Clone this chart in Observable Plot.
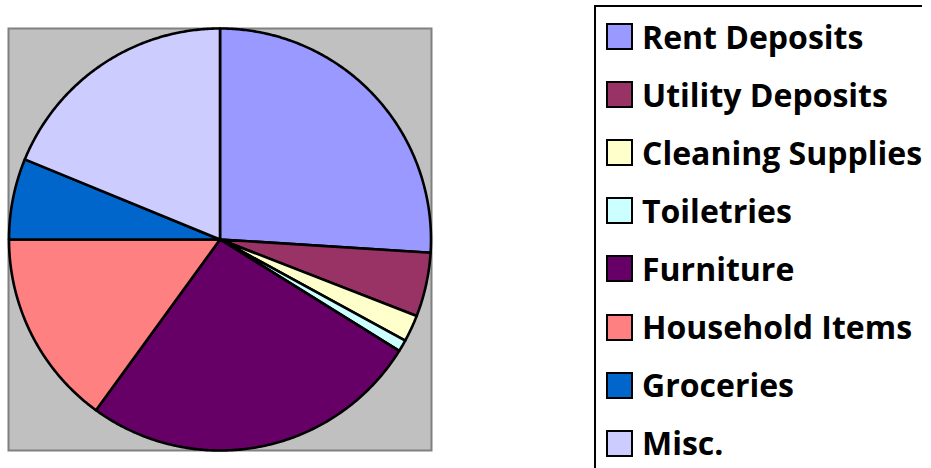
<!DOCTYPE html>
<html>
<head>
<meta charset="utf-8">
<script src="https://cdn.jsdelivr.net/npm/d3@7"></script>
<script src="https://cdn.jsdelivr.net/npm/@observablehq/plot@0.6"></script>
<style>
  html, body { margin: 0; padding: 0; background: #fff; overflow: hidden; }
  #wrap { position: relative; width: 931px; height: 468px; overflow: hidden; }
  #chart { position: absolute; left: 0; top: 0; }
  #legend {
    position: absolute; left: 594px; top: 5px; width: 328px; height: 520px;
    border-top: 2px solid #000; border-left: 2px solid #000; box-sizing: border-box; background: #fff;
  }
  .item { position: absolute; left: 10px; height: 30px; display: flex; align-items: center; }
  .sw { width: 23px; height: 23px; border: 2px solid #000; box-sizing: content-box; flex: none; }
  .lbl { margin-left: 9px; font-family: "Open Sans", Lato, sans-serif; font-weight: bold; font-size: 32px; color: #000; white-space: nowrap; line-height: 30px; }
</style>
</head>
<body>
<div id="wrap">
  <div id="chart"></div>
  <div id="legend"></div>
</div>
<script>
const categories = ["Rent Deposits", "Utility Deposits", "Cleaning Supplies", "Toiletries", "Furniture", "Household Items", "Groceries", "Misc."];
const values = [26.0, 4.9, 2.05, 0.9, 26.15, 15.0, 6.2, 18.8];
const colors = ["#9999FF", "#993366", "#FFFFCC", "#CCFFFF", "#660066", "#FF8080", "#0066CC", "#CCCCFF"];

const data = categories.map((name, i) => ({name, value: values[i]}));
const arcs = d3.pie().sort(null).value(d => d.value)(data);

// outline of each slice in unit-circle data space (angle clockwise from 12 o'clock)
const points = [];
for (const a of arcs) {
  const name = a.data.name;
  points.push({name, x: 0, y: 0});
  const n = Math.max(2, Math.ceil((a.endAngle - a.startAngle) / (Math.PI / 360)));
  for (let k = 0; k <= n; k++) {
    const t = a.startAngle + (a.endAngle - a.startAngle) * k / n;
    points.push({name, x: Math.sin(t), y: Math.cos(t)});
  }
  points.push({name, x: 0, y: 0});
}

const plotW = 423, plotH = 422;
const r = 211;
const chart = Plot.plot({
  width: 931,
  height: 468,
  marginLeft: 8,
  marginTop: 28,
  marginRight: 931 - 8 - plotW,
  marginBottom: 468 - 28 - plotH,
  x: {domain: [-plotW / 2 / r, plotW / 2 / r], axis: null},
  y: {domain: [-plotH / 2 / r, plotH / 2 / r], axis: null},
  color: {domain: categories, range: colors},
  marks: [
    Plot.frame({fill: "#C0C0C0", stroke: "#808080", strokeWidth: 2}),
    Plot.line(points, {x: "x", y: "y", z: "name", fill: "name", stroke: "#000", strokeWidth: 2.6, strokeLinejoin: "round"})
  ]
});
document.getElementById("chart").appendChild(chart);

const legend = document.getElementById("legend");
const rowY = 58.1;
categories.forEach((name, i) => {
  const item = document.createElement("div");
  item.className = "item";
  item.style.top = (36.5 - 5 - 2 - 15 + i * rowY) + "px";
  const sw = document.createElement("div");
  sw.className = "sw";
  sw.style.background = colors[i];
  const lbl = document.createElement("span");
  lbl.className = "lbl";
  lbl.textContent = name;
  item.appendChild(sw);
  item.appendChild(lbl);
  legend.appendChild(item);
});
</script>
</body>
</html>
